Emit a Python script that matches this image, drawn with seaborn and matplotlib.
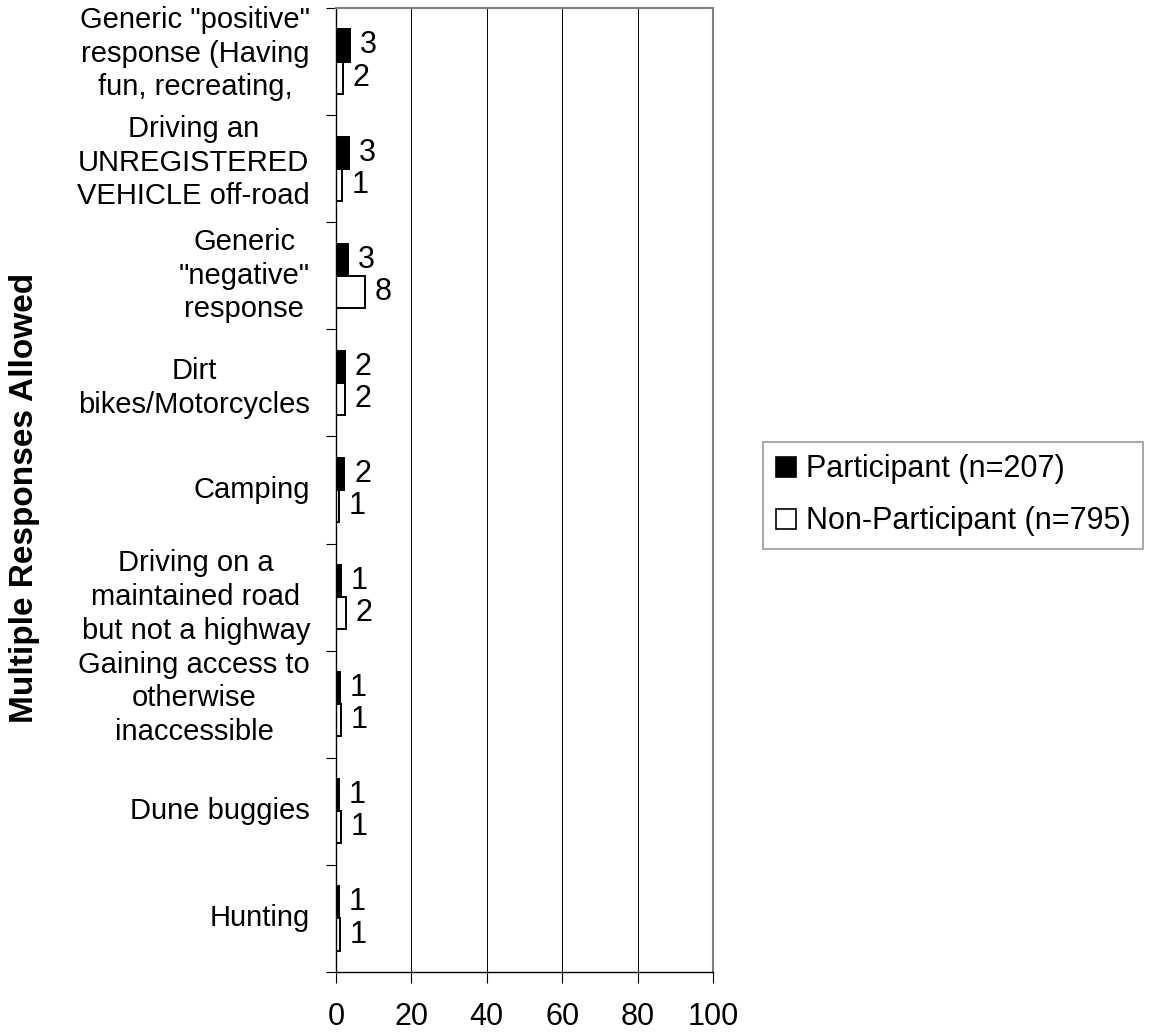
import matplotlib
matplotlib.use("Agg")
import matplotlib.pyplot as plt
import matplotlib.transforms as mtransforms
import numpy as np
import pandas as pd
import seaborn as sns
from matplotlib.ticker import FixedLocator

# chart data
CATEGORIES = [
    'Generic "positive"\nresponse (Having\nfun, recreating,',
    "Driving an\nUNREGISTERED\nVEHICLE off-road",
    'Generic\n"negative"\nresponse',
    "Dirt\nbikes/Motorcycles",
    "Camping",
    "Driving on a\nmaintained road\nbut not a highway",
    "Gaining access to\notherwise\ninaccessible",
    "Dune buggies",
    "Hunting",
]
GROUPS = ["Participant (n=207)", "Non-Participant (n=795)"]
PARTICIPANT = [3.7, 3.4, 3.3, 2.4, 2.2, 1.4, 1.0, 0.9, 0.9]
NON_PARTICIPANT = [1.9, 1.5, 7.7, 2.4, 0.9, 2.6, 1.4, 1.4, 1.1]
PARTICIPANT_LABELS = ["3", "3", "3", "2", "2", "1", "1", "1", "1"]
NON_PARTICIPANT_LABELS = ["2", "1", "8", "2", "1", "2", "1", "1", "1"]
X_TICKS = [0, 20, 40, 60, 80, 100]
Y_LABEL = "Multiple Responses Allowed"

# wrapped category text sits a little off-centre in the original (pixels, + = down)
LABEL_NUDGE = [-8, -6, 0, 5, 0, 0, -6, 0, 0]

sns.set_theme(style="white")
plt.rcParams["font.family"] = ["Liberation Sans", "DejaVu Sans"]
plt.rcParams["text.color"] = "black"
plt.rcParams["axes.labelcolor"] = "black"
plt.rcParams["xtick.color"] = "black"
plt.rcParams["ytick.color"] = "black"

FS = 22
CAT_FS = 21

df = pd.DataFrame({
    "category": CATEGORIES * 2,
    "value": PARTICIPANT + NON_PARTICIPANT,
    "group": [GROUPS[0]] * len(CATEGORIES) + [GROUPS[1]] * len(CATEGORIES),
})

fig = plt.figure(figsize=(11.54, 10.34), dpi=100)
ax = fig.add_axes([336 / 1154, 1 - 972 / 1034, 377 / 1154, 964 / 1034])

sns.barplot(
    data=df, y="category", x="value", hue="group", orient="h",
    order=CATEGORIES, hue_order=GROUPS,
    palette={GROUPS[0]: "black", GROUPS[1]: "white"},
    edgecolor="black", linewidth=1.4, width=0.6, saturation=1,
    ax=ax, legend=False,
)

for cont, labs in zip(ax.containers, [PARTICIPANT_LABELS, NON_PARTICIPANT_LABELS]):
    ax.bar_label(cont, labels=labs, padding=7, fontsize=FS, color="black")

ax.set_xlim(0, 100)
ax.set_ylim(len(CATEGORIES) - 0.5, -0.5)
ax.set_xticks(X_TICKS)
ax.set_xticklabels([str(t) for t in X_TICKS], fontsize=FS)
ax.set_xlabel("")

# category names drawn as text so the small nudges can be applied
ax.set_yticklabels([])
ax.yaxis.set_minor_locator(FixedLocator(np.arange(-0.5, len(CATEGORIES), 1)))
ax.tick_params(axis="y", which="major", length=0)
ax.tick_params(axis="y", which="minor", left=True, length=7.5, width=0.8,
               color="black", direction="out")
ax.tick_params(axis="x", which="major", bottom=True, length=8, width=0.8,
               color="black", direction="out", pad=13.5, labelcolor="black")

base = mtransforms.blended_transform_factory(ax.transAxes, ax.transData)
for i, (name, nudge) in enumerate(zip(CATEGORIES, LABEL_NUDGE)):
    tr = base + mtransforms.ScaledTranslation(-26 / 100, -nudge / 100, fig.dpi_scale_trans)
    ax.text(0, i, name, transform=tr, ha="right", va="center",
            multialignment="center", fontsize=CAT_FS, color="black", linespacing=1.26)

ax.set_ylabel(Y_LABEL, fontsize=24, fontweight="bold", color="black")
ax.yaxis.set_label_coords(-0.785, 0.492)

ax.set_axisbelow(True)
ax.grid(axis="x", color="black", linewidth=0.7)
ax.grid(axis="y", visible=False)
for side in ["left", "bottom"]:
    ax.spines[side].set_color("black")
    ax.spines[side].set_linewidth(1.0)
for side in ["top", "right"]:
    ax.spines[side].set_color("#808080")
    ax.spines[side].set_linewidth(1.5)

handles = [
    plt.Rectangle((0, 0), 1, 1, facecolor="black", edgecolor="black", linewidth=1.2),
    plt.Rectangle((0, 0), 1, 1, facecolor="white", edgecolor="black", linewidth=1.2),
]
leg = fig.legend(
    handles, GROUPS, loc="center left", bbox_to_anchor=(763 / 1154, 1 - 495.5 / 1034),
    fontsize=FS, handlelength=0.65, handleheight=0.65, handletextpad=0.33,
    labelspacing=0.72, borderpad=0.42, borderaxespad=0, fancybox=False,
    frameon=True, edgecolor="#808080",
)
leg.get_frame().set_linewidth(1.2)
for t in leg.get_texts():
    t.set_color("black")

fig.savefig("out.png", dpi=100)
